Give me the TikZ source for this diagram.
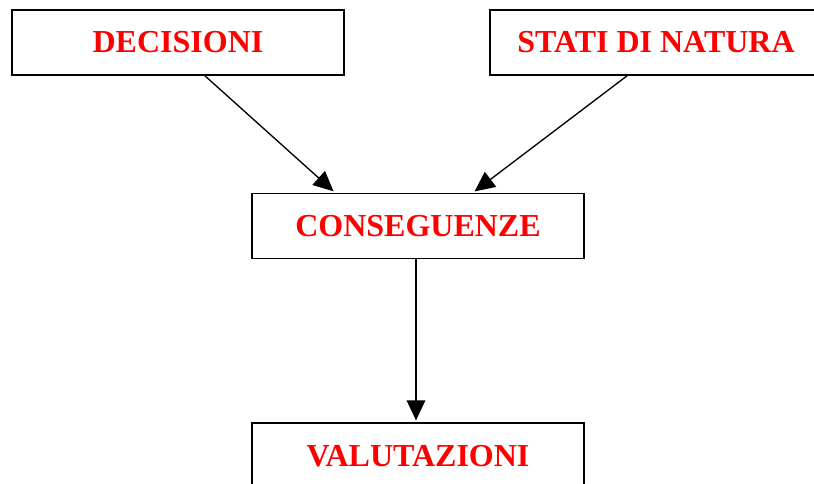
\documentclass[tikz,border=0pt]{standalone}
\usepackage{fontspec}
\setmainfont{Liberation Serif}
\usepackage{tikz}
\usetikzlibrary{positioning,arrows.meta}

\begin{document}
\begin{tikzpicture}[
  x=0.75pt, y=-0.75pt,
  box/.style={draw, line width=1.3pt, minimum width=249pt, minimum height=48.75pt,
    inner sep=0pt, text=red, font=\bfseries\fontsize{24}{28}\selectfont},
  arrow/.style={-{Triangle[length=15pt,width=14pt]}, line width=1pt, shorten >=1.5pt},
]
\useasboundingbox (0,0) rectangle (814,484);
\clip (0,0) rectangle (814,484);
\fill[white] (0,0) rectangle (814,484);
\node[box] (decisioni) at (178,42.5) {DECISIONI};
\node[box] (stati) at (656,42.5) {STATI DI NATURA};
\node[box] (conseguenze) at (418,226) {CONSEGUENZE};
\node[box, below=122.25pt of conseguenze] (valutazioni) {VALUTAZIONI};
\draw[arrow] ([xshift=20.25pt]decisioni.south) -- ([xshift=-62.25pt]conseguenze.north);
\draw[arrow] ([xshift=-21.75pt]stati.south) -- ([xshift=41.25pt]conseguenze.north);
\draw[arrow] ([xshift=-1.5pt]conseguenze.south) -- ([xshift=-1.5pt]valutazioni.north);
\end{tikzpicture}
\end{document}
